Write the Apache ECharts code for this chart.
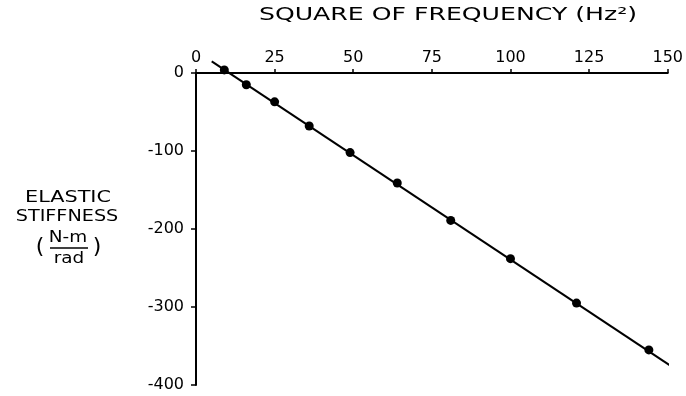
<!DOCTYPE html>
<html>
<head>
<meta charset="utf-8">
<script src="https://cdn.jsdelivr.net/npm/echarts@6/dist/echarts.min.js"></script>
<style>
  html, body { margin: 0; padding: 0; background: #fff; }
  #chart { width: 686px; height: 396px; }
</style>
</head>
<body>
<div id="chart"></div>
<script>
// measured points: square of frequency (Hz^2) vs elastic stiffness (N-m/rad)
const freqSq = [9, 16, 25, 36, 49, 64, 81, 100, 121, 144];
const stiffness = [4, -15, -37, -68, -102, -141, -189, -238, -295, -355];
// fitted straight line, end points
const fitX = [5, 151.5];
const fitY = [15, -377];
const xTicks = [0, 25, 50, 75, 100, 125, 150];
const yTicks = [0, -100, -200, -300, -400];

const FONT = 'DejaVu Sans';
const chart = echarts.init(document.getElementById('chart'));

function label(text, x, y, size, sx) {
  return {
    type: 'text', x: x, y: y, scaleX: sx || 1,
    style: { text: text, font: size + 'px ' + FONT, fill: '#000',
             textAlign: 'center', textVerticalAlign: 'middle' }
  };
}

const option = {
  backgroundColor: '#fff',
  animation: false,
  grid: { left: 196, right: 16, top: 73, bottom: 11 },
  xAxis: {
    type: 'value',
    position: 'top',
    min: xTicks[0],
    max: xTicks[xTicks.length - 1],
    interval: 25,
    axisLine: { onZero: false, lineStyle: { color: '#000', width: 2 } },
    axisTick: { length: 4, lineStyle: { color: '#000', width: 1.5 } },
    axisLabel: { color: '#000', fontFamily: FONT, fontSize: 16, margin: 7 },
    splitLine: { show: false }
  },
  yAxis: {
    type: 'value',
    min: yTicks[yTicks.length - 1],
    max: yTicks[0],
    interval: 100,
    axisLine: { onZero: false, lineStyle: { color: '#000', width: 2 } },
    axisTick: { length: 5, lineStyle: { color: '#000', width: 1.5 } },
    axisLabel: {
      color: '#000', fontFamily: FONT, fontSize: 16, margin: 12,
      formatter: v => (v < 0 ? '-' + Math.abs(v) : String(v))
    },
    splitLine: { show: false }
  },
  graphic: [
    label('SQUARE OF FREQUENCY (Hz²)', 448, 16, 17, 1.48),
    label('ELASTIC', 68, 198, 16, 1.3),
    label('STIFFNESS', 67, 217, 16, 1.2),
    label('N-m', 68, 238, 16, 1.15),
    {
      type: 'line', shape: { x1: 50, y1: 248, x2: 88, y2: 248 },
      style: { stroke: '#000', lineWidth: 1.5 }
    },
    label('rad', 69, 259, 16, 1.15),
    label('(', 40, 247, 22),
    label(')', 97, 247, 22)
  ],
  series: [
    {
      type: 'line',
      data: fitX.map((x, i) => [x, fitY[i]]),
      showSymbol: false,
      clip: false,
      lineStyle: { color: '#000', width: 2 }
    },
    {
      type: 'scatter',
      data: freqSq.map((x, i) => [x, stiffness[i]]),
      symbol: 'circle',
      symbolSize: 9,
      clip: false,
      itemStyle: { color: '#000', opacity: 1 }
    }
  ]
};

chart.setOption(option);
</script>
</body>
</html>
